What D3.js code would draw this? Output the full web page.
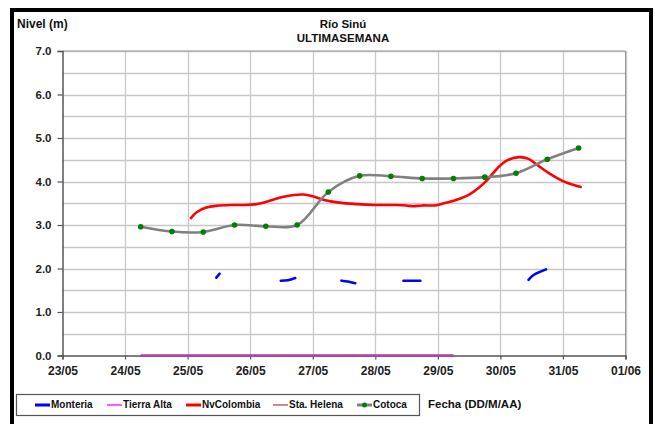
<!DOCTYPE html>
<html><head><meta charset="utf-8">
<script src="https://cdn.jsdelivr.net/npm/d3@7"></script>
<style>body{margin:0;background:#fff}svg{display:block;font-family:"Liberation Sans",Arial,sans-serif}</style>
</head><body><svg id="c" width="655" height="424"></svg>
<script>
// ---- data ----
const xTickLabels = ["23/05","24/05","25/05","26/05","27/05","28/05","29/05","30/05","31/05","01/06"];
const yTicks = [0,1,2,3,4,5,6,7];
const seriesNames = ["Monteria","Tierra Alta","NvColombia","Sta. Helena","Cotoca"];
const seriesColors = ["#0000ff","#ff00ff","#ff0000","#a0505a","#808080"];

// Cotoca (every 12 h)
const cotocaTimes = ["2010-05-24T06:00","2010-05-24T18:00","2010-05-25T06:00","2010-05-25T18:00","2010-05-26T06:00","2010-05-26T18:00","2010-05-27T06:00","2010-05-27T18:00","2010-05-28T06:00","2010-05-28T18:00","2010-05-29T06:00","2010-05-29T18:00","2010-05-30T06:00","2010-05-30T18:00","2010-05-31T06:00"];
const cotocaValues = [2.96,2.85,2.84,3.00,2.97,3.00,3.76,4.13,4.12,4.07,4.07,4.10,4.19,4.51,4.77];

// NvColombia
const nvTimes = ["2010-05-25T01:00","2010-05-25T03:36","2010-05-25T07:12","2010-05-25T10:48","2010-05-25T16:48","2010-05-25T21:36","2010-05-26T02:24","2010-05-26T07:12","2010-05-26T12:00","2010-05-26T16:48","2010-05-26T20:24","2010-05-27T00:00","2010-05-27T04:48","2010-05-27T09:36","2010-05-27T16:48","2010-05-28T00:00","2010-05-28T07:12","2010-05-28T12:00","2010-05-28T14:24","2010-05-28T18:00","2010-05-28T22:48","2010-05-29T02:24","2010-05-29T07:12","2010-05-29T12:00","2010-05-29T15:36","2010-05-29T19:12","2010-05-29T22:48","2010-05-30T02:24","2010-05-30T07:12","2010-05-30T10:48","2010-05-30T14:24","2010-05-30T19:12","2010-05-31T00:00","2010-05-31T03:36","2010-05-31T07:12"];
const nvValues = [3.14,3.30,3.40,3.44,3.46,3.46,3.48,3.55,3.64,3.69,3.70,3.66,3.57,3.52,3.48,3.46,3.46,3.45,3.43,3.45,3.45,3.50,3.58,3.70,3.85,4.05,4.30,4.48,4.56,4.52,4.37,4.17,4.01,3.93,3.87];

// Monteria (gaps = null)
const montTimes = ["2010-05-25T11:02","2010-05-25T12:14","2010-05-25T13:00","2010-05-26T11:45","2010-05-26T14:24","2010-05-26T17:17","2010-05-26T18:00","2010-05-27T11:02","2010-05-27T13:30","2010-05-27T16:19","2010-05-27T17:00","2010-05-28T10:48","2010-05-28T14:24","2010-05-28T17:17","2010-05-28T18:00","2010-05-30T10:48","2010-05-30T12:43","2010-05-30T17:31"];
const montValues = [1.79,1.88,null,1.72,1.73,1.78,null,1.72,1.70,1.66,null,1.72,1.72,1.72,null,1.74,1.85,1.98];

// Tierra Alta & Sta. Helena (zero)
const zeroTimes = ["2010-05-24T06:00","2010-05-29T06:00"];
const tierraValues = [0,0];
const helenaValues = [0,0];

// ---- chart ----
const P = d3.timeParse("%Y-%m-%dT%H:%M");
const svg = d3.select("#c");
const L = 62.5, R = 625.5, T = 51, B = 355.5;
const x = d3.scaleTime().domain([new Date(2010,4,23), new Date(2010,5,1)]).range([L,R]);
const y = d3.scaleLinear().domain([0,7]).range([B,T]);

// outer frame
svg.append("rect").attr("x",12).attr("y",10).attr("width",639).attr("height",440)
  .attr("fill","none").attr("stroke","#000").attr("stroke-width",4);

// gridlines
const g = svg.append("g");
d3.range(0.5,7.01,0.5).forEach(v=>{
  g.append("line").attr("x1",L).attr("x2",R).attr("y1",Math.round(y(v))+0.5).attr("y2",Math.round(y(v))+0.5)
   .attr("stroke","#c8c8c8").attr("stroke-width",1.3);
});
const days = d3.timeDay.range(new Date(2010,4,24), new Date(2010,5,2));
days.forEach(d=>{
  g.append("line").attr("x1",Math.round(x(d))+0.5).attr("x2",Math.round(x(d))+0.5).attr("y1",T).attr("y2",B)
   .attr("stroke","#c8c8c8").attr("stroke-width",1.3);
});
// plot border top/right
g.append("line").attr("x1",L).attr("x2",R).attr("y1",T).attr("y2",T).attr("stroke","#9a9a9a");
g.append("line").attr("x1",R).attr("x2",R).attr("y1",T).attr("y2",B).attr("stroke","#9a9a9a");

// axes
const yAxis = d3.axisLeft(y).tickValues(yTicks).tickFormat(d3.format(".1f")).tickSize(5).tickPadding(6);
const ya = svg.append("g").attr("transform",`translate(${L},0)`).call(yAxis);
const xAxis = d3.axisBottom(x).ticks(d3.timeDay.every(1)).tickFormat((d,i)=>xTickLabels[i]).tickSize(4).tickPadding(7);
const xa = svg.append("g").attr("transform",`translate(0,${B})`).call(xAxis);
[ya,xa].forEach(a=>{
  a.select(".domain").attr("stroke","#555").attr("stroke-width",1.5);
  a.selectAll(".tick line").attr("stroke","#555").attr("stroke-width",1.2);
  a.selectAll("text").attr("font-size",11.5).attr("font-weight","bold").attr("fill","#222")
   .attr("font-family","Liberation Sans, Arial, sans-serif");
});
xa.selectAll("text").attr("font-size",12);

// lines
const mk = (times,vals)=>times.map((t,i)=>({t:P(t),v:vals[i]}));
const smooth = d3.line().defined(d=>d.v!==null).x(d=>x(d.t)).y(d=>y(d.v)).curve(d3.curveCatmullRom.alpha(0.5));

svg.append("path").datum(mk(zeroTimes,tierraValues)).attr("d",smooth).attr("fill","none")
  .attr("stroke",seriesColors[1]).attr("stroke-width",2);
svg.append("path").datum(mk(zeroTimes,helenaValues)).attr("d",smooth).attr("fill","none")
  .attr("stroke","#a64a8c").attr("stroke-width",2.2);

svg.append("path").datum(mk(montTimes,montValues)).attr("d",smooth).attr("fill","none")
  .attr("stroke",seriesColors[0]).attr("stroke-width",2.6).attr("stroke-linecap","round");

svg.append("path").datum(mk(nvTimes,nvValues)).attr("d",smooth).attr("fill","none")
  .attr("stroke",seriesColors[2]).attr("stroke-width",2.6);

const cot = mk(cotocaTimes,cotocaValues);
svg.append("path").datum(cot).attr("d",smooth).attr("fill","none")
  .attr("stroke",seriesColors[4]).attr("stroke-width",2.6);
svg.append("g").selectAll("circle").data(cot).join("circle")
  .attr("cx",d=>x(d.t)).attr("cy",d=>y(d.v)).attr("r",2.8).attr("fill","#008000");

// titles
const txt = (s,xx,yy,anchor,size)=>svg.append("text").text(s).attr("x",xx).attr("y",yy)
  .attr("text-anchor",anchor).attr("font-size",size).attr("font-weight","bold").attr("fill","#111")
  .attr("dominant-baseline","middle");
txt("Río Sinú",343,25,"middle",11.5);
txt("ULTIMASEMANA",343,38.5,"middle",11.5);
txt("Nivel (m)",17,25,"start",12);
txt("Fecha (DD/M/AA)",428,405,"start",11.5);

// legend
svg.append("rect").attr("x",16.5).attr("y",394.5).attr("width",403).attr("height",21)
  .attr("fill","#fff").attr("stroke","#555").attr("stroke-width",1.2);
const lx = [35,107,186,273,357];
seriesNames.forEach((n,i)=>{
  const w = (i===1||i===3)?1.3:3;
  svg.append("line").attr("x1",lx[i]).attr("x2",lx[i]+15).attr("y1",405).attr("y2",405)
    .attr("stroke",i===3?"#a0505a":seriesColors[i]).attr("stroke-width",w);
  if(i===4) svg.append("circle").attr("cx",lx[i]+7.5).attr("cy",405).attr("r",2.5).attr("fill","#008000");
  svg.append("text").text(n).attr("x",lx[i]+16).attr("y",405).attr("dominant-baseline","middle")
    .attr("font-size",10).attr("font-weight","bold").attr("fill","#111");
});
</script></body></html>
